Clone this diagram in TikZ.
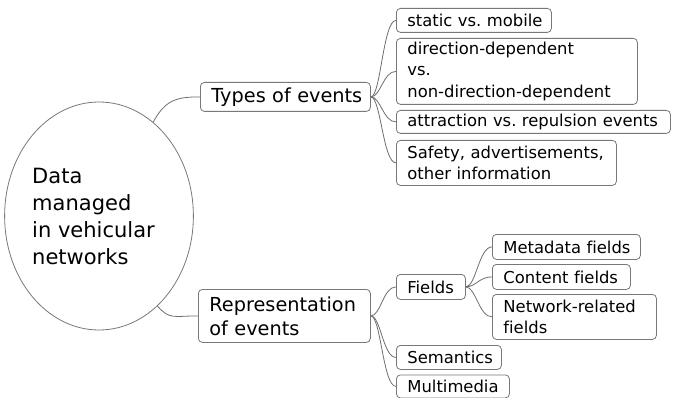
\documentclass[tikz,border=0pt]{standalone}
\usepackage{fontspec}
\setmainfont{DejaVu Sans}[Ligatures=NoCommon]
\usetikzlibrary{shapes.geometric}
\hyphenpenalty=10000
\exhyphenpenalty=10000
\definecolor{edgecol}{RGB}{110,110,110}
\definecolor{framecol}{RGB}{120,120,120}
\begin{document}
\begin{tikzpicture}[x=1pt,y=-1pt,
  box/.style={draw=framecol, line width=0.8pt, rounded corners=4pt, anchor=north west,
    align=left, inner xsep=11pt, inner ysep=0pt, font=\fontsize{16.4}{21.5}\selectfont, text=black,
    execute at begin node={\hyphenpenalty=10000 \exhyphenpenalty=10000 }},
  big/.style={font=\fontsize{19.3}{24}\selectfont},
  sz/.style 2 args={text width=#1pt, minimum height=#2pt},
  link/.style={draw=edgecol, line width=0.8pt}]
\useasboundingbox (0,0) rectangle (679,398);
\node[draw=framecol, line width=0.8pt, ellipse, minimum width=148pt, minimum height=228pt,
  inner sep=0pt, align=left, font=\fontsize{21}{27}\selectfont] (root) at (99,216)
  {Data\\managed\\in vehicular\rule{11pt}{0pt}\\networks};
\node[box, big, sz={148}{29}] (types) at (200,82) {Types~of~events};
\node[box, big, sz={150}{53}] (rep) at (198,289) {Representation\\of~events};
\node[box, sz={133}{24}] (c1) at (396,8) {static~vs.~mobile};
\node[box, sz={219}{66}] (c2) at (396,38) {direction-dependent\\vs.\\non-direction-dependent};
\node[box, sz={252}{23}] (c3) at (396,110) {attraction~vs.~repulsion~events};
\node[box, sz={198}{45}] (c4) at (396,140) {Safety,~advertisements,\\other~information};
\node[box, sz={47}{25}] (fields) at (396,274) {Fields};
\node[box, sz={126}{25}] (meta) at (492,234) {Metadata~fields};
\node[box, sz={116}{25}] (content) at (492,264) {Content~fields};
\node[box, sz={142}{45}] (netw) at (492,294) {Network-related\\fields};
\node[box, sz={83}{24}] (sem) at (396,345) {Semantics};
\node[box, sz={91}{23}] (multi) at (396,374.5) {Multimedia};
\draw[link] (root.60) .. controls +(12,-22) and +(-24,0) .. (types.west);
\draw[link] (root.-57) .. controls +(12,14) and +(-24,0) .. (rep.west);
\foreach \c in {c1,c2,c3,c4}
  \draw[link] (types.east) .. controls +(10,0) and +(-13,0) .. (\c.west);
\foreach \c in {fields,sem,multi}
  \draw[link] (rep.east) .. controls +(10,0) and +(-13,0) .. (\c.west);
\foreach \c in {meta,content,netw}
  \draw[link] (fields.east) .. controls +(10,0) and +(-13,0) .. (\c.west);
\end{tikzpicture}
\end{document}
